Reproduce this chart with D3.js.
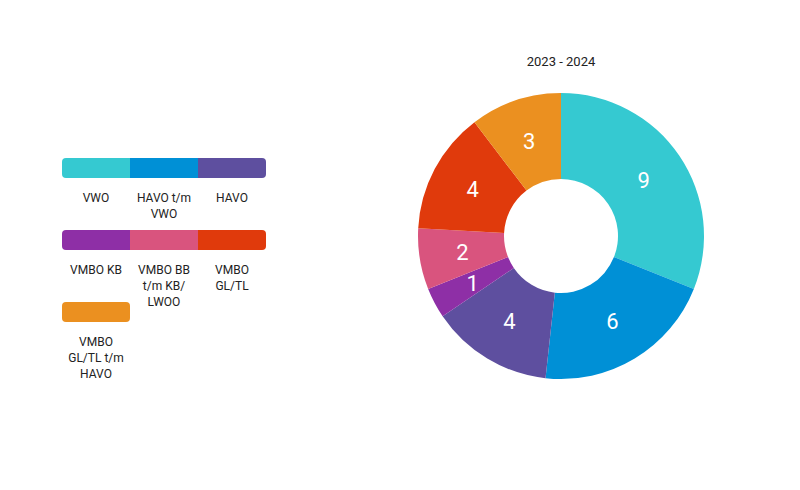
<!DOCTYPE html><html><head><meta charset="utf-8">
<script src="https://cdn.jsdelivr.net/npm/d3@7"></script>
<style>body{margin:0;background:#fff}</style></head><body>
<svg id="c" width="800" height="490"></svg>
<script>
const categories=["VWO","HAVO t/m VWO","HAVO","VMBO KB","VMBO BB t/m KB/ LWOO","VMBO GL/TL","VMBO GL/TL t/m HAVO"];
const labelLines=[["VWO"],["HAVO t/m","VWO"],["HAVO"],["VMBO KB"],["VMBO BB","t/m KB/","LWOO"],["VMBO","GL/TL"],["VMBO","GL/TL t/m","HAVO"]];
const values=[9,6,4,1,2,4,3];
const colors=["#35c9d1","#0090d6","#5e4f9f","#8e2fa6","#d9547e","#e03a0c","#eb9020"];
const title="2023 - 2024";
const svg=d3.select("#c");
const font="Roboto, sans-serif";
svg.append("text").attr("x",561).attr("y",66).attr("text-anchor","middle").attr("font-family",font).attr("font-size",13).attr("fill","#222").text(title);
const g=svg.append("g").attr("transform","translate(561,236)");
const pie=d3.pie().sort(null).value(d=>d)(values);
const arc=d3.arc().innerRadius(57).outerRadius(143);
const lab=d3.arc().innerRadius(100).outerRadius(100);
g.selectAll("path").data(pie).join("path").attr("d",arc).attr("fill",(d,i)=>colors[i]);
g.selectAll("text").data(pie).join("text").attr("transform",d=>`translate(${lab.centroid(d)})`)
 .attr("text-anchor","middle").attr("dy","0.35em").attr("font-family",font).attr("font-size",22).attr("fill","#fff").text(d=>d.data);
// legend
const perRow=3,sw=68,sh=20,x0=62,y0=158,rowH=72;
const defs=svg.append("defs");
for(let r=0;r*perRow<values.length;r++){
  const n=Math.min(perRow,values.length-r*perRow);
  defs.append("clipPath").attr("id","cp"+r).append("rect").attr("x",x0).attr("y",y0+r*rowH).attr("width",n*sw).attr("height",sh).attr("rx",4);
}
values.forEach((v,i)=>{
  const r=Math.floor(i/perRow),c=i%perRow,x=x0+c*sw,y=y0+r*rowH;
  svg.append("rect").attr("x",x).attr("y",y).attr("width",sw).attr("height",sh).attr("fill",colors[i]).attr("clip-path",`url(#cp${r})`);
  const t=svg.append("text").attr("x",x+sw/2).attr("y",y+sh+24).attr("text-anchor","middle").attr("font-family",font).attr("font-size",12).attr("fill","#222");
  labelLines[i].forEach((l,j)=>t.append("tspan").attr("x",x+sw/2).attr("dy",j?16:0).text(l));
});
</script></body></html>
